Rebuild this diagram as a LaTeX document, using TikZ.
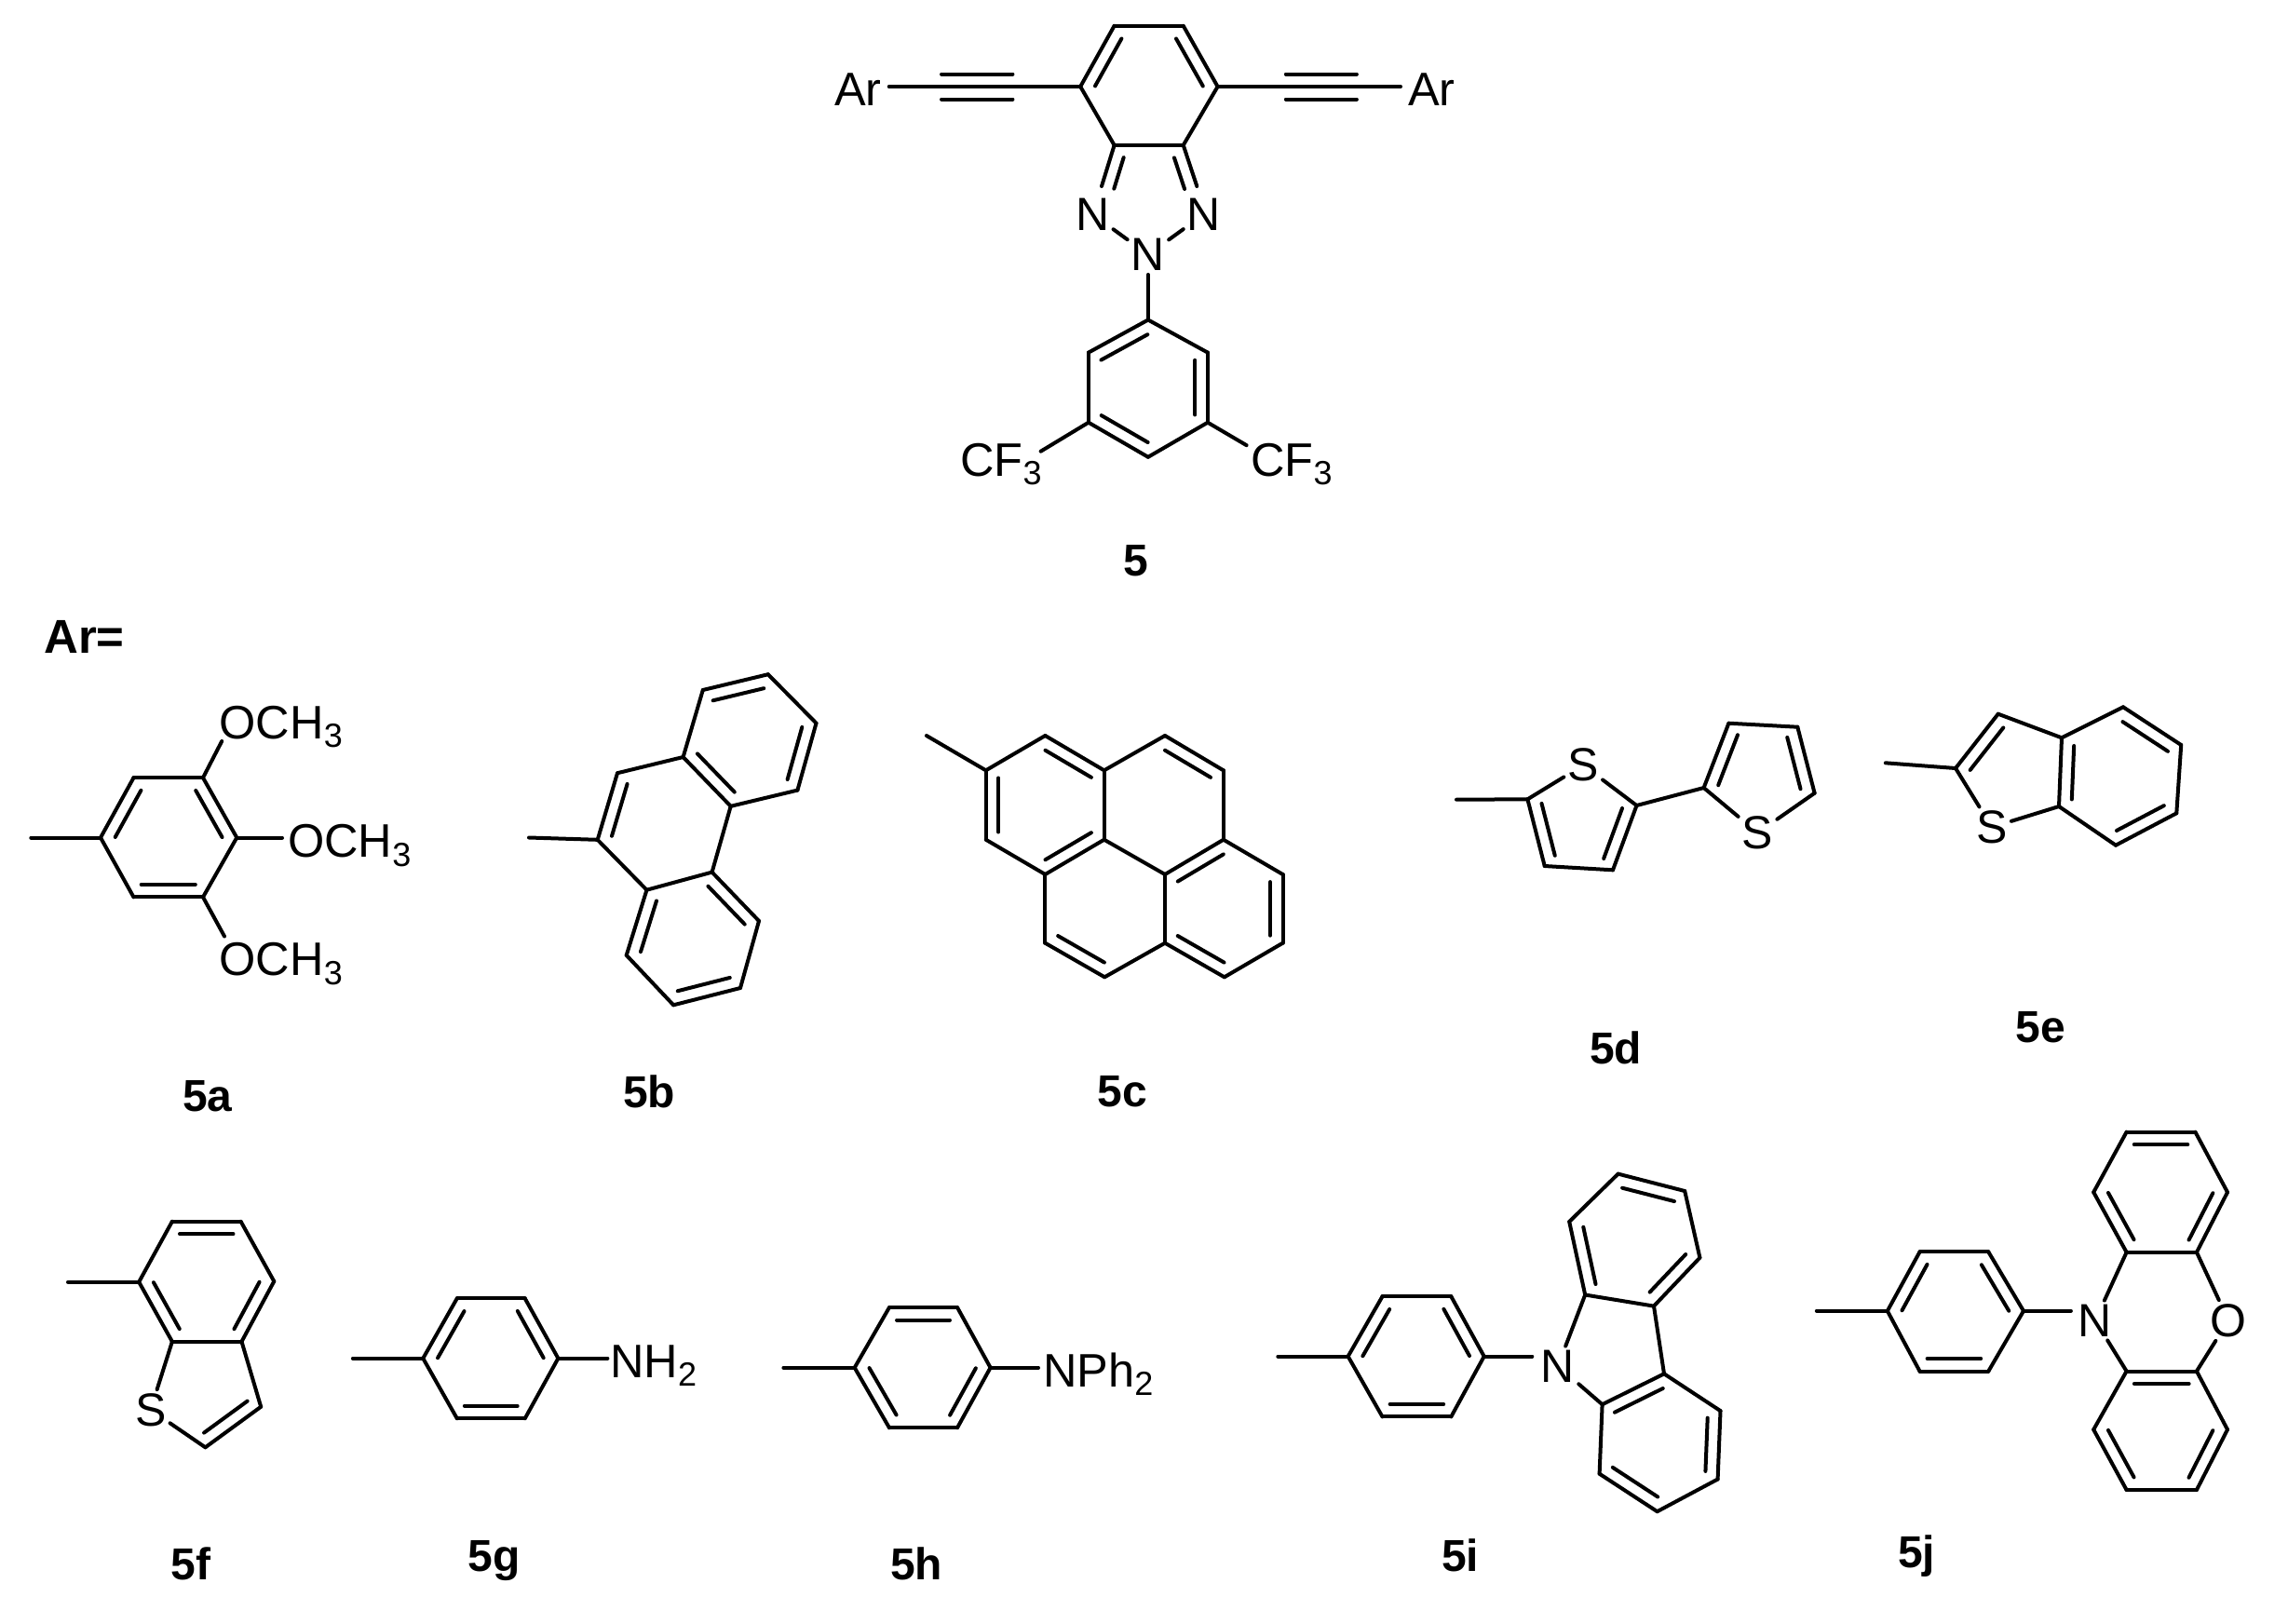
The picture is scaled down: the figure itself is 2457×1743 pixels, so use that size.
\documentclass[tikz,border=0pt]{standalone}
\usepackage{fontspec}
\setmainfont{Liberation Sans}
\usetikzlibrary{calc}
\newcommand{\subs}[1]{\raisebox{-9.5pt}{\fontsize{36}{36}\selectfont #1}}
\newcommand{\atoms}[1]{\foreach \n/\x/\y in {#1} {\coordinate (\n) at (\x,\y);}}
\newcommand{\bonds}[1]{\foreach \a/\b in {#1} {\draw[bond] (\a) -- (\b);}}
\newcommand{\inbond}[4]{\draw[bond] ($(#1)!#3!(#2)!13.5pt!-90:(#2)$) -- ($(#1)!#4!(#2)!13.5pt!-90:(#2)$);}
\newcommand{\inners}[1]{\foreach \a/\b in {#1} {\inbond{\a}{\b}{.11}{.89}}}
\tikzset{
  bond/.style={line width=4pt,line cap=round,line join=round},
  atom/.style={font=\fontsize{50}{60}\selectfont,inner sep=4pt},
  group/.style={font=\fontsize{50.5}{60}\selectfont,inner sep=0pt,anchor=base west},
  tag/.style={font=\fontsize{48}{56}\selectfont\bfseries,inner sep=0pt,anchor=base}
}
\begin{document}
\begin{tikzpicture}[x=1pt,y=-1pt]
  \useasboundingbox (0,0) rectangle (2457,1743);
  %% core 5
  \atoms{c1/1196.6/27.7,c2/1270.7/27.7,c3/1307.6/93,c4/1270.7/155.9,c5/1196.6/155.9,c6/1160.2/93,nra/1285.3/200,nla/1183/200,arla/954.7/93,arra/1504/93}
  \atoms{p1/1232.9/343.5,p2/1296.9/378.6,p3/1296.9/453.7,p4/1232.9/490.8,p5/1168.9/453.7,p6/1168.9/378.6,cfla/1117.6/484.7,cfra/1338.6/478.2}
  \node[atom] (nl) at (1173.3,230) {N};
  \node[atom] (nr) at (1293,230) {N};
  \node[atom] (nc) at (1232.9,273.5) {N};
  \node[group] (arl) at (896,113) {Ar};
  \node[group] (arr) at (1512,113) {Ar};
  \node[group] (cfl) at (1031,511) {CF\subs{3}};
  \node[group] (cfr) at (1343,511) {CF\subs{3}};
  \bonds{c1/c2,c2/c3,c3/c4,c4/c5,c5/c6,c6/c1,c4/nra,c5/nla,nl/nc,nr/nc,nc/p1,arla/c6,c3/arra}
  \bonds{p1/p2,p2/p3,p3/p4,p4/p5,p5/p6,p6/p1,p5/cfla,p3/cfra}
  \inners{c2/c3,c6/c1,p2/p3,p4/p5,p6/p1}
  \inbond{c4}{nra}{.21}{.97}
  \inbond{nla}{c5}{.03}{.79}
  %% triple bonds
  \inbond{arla}{c6}{.274}{.646}
  \inbond{c6}{arla}{.354}{.726}
  \inbond{c3}{arra}{.373}{.76}
  \inbond{arra}{c3}{.24}{.627}
  \node[tag] (l5) at (1220,618) {5};
  \node[tag,anchor=base west,font=\fontsize{51}{56}\selectfont\bfseries] (arq) at (47,701) {Ar=};
  %% 5a
  \atoms{am/33.3/899.5,a1/108/899.5,a2/143.5/835.2,a3/218/835.2,a4/254.3/899.5,a5/218/963.4,a6/143.5/963.4,ao1/238.2/796,ao2/303/899.5,ao3/241/1005.5}
  \node[group] (ot) at (235.5,793) {OCH\subs{3}};
  \node[group] (om) at (309,920.5) {OCH\subs{3}};
  \node[group] (ob) at (235.5,1047.6) {OCH\subs{3}};
  \bonds{am/a1,a1/a2,a2/a3,a3/a4,a4/a5,a5/a6,a6/a1,a3/ao1,a4/ao2,a5/ao3}
  \inners{a1/a2,a3/a4,a5/a6}
  \node[tag] (l5a) at (223,1193) {5a};
  %% 5b
  \atoms{bm/568/899.5,b1/641.7/901.8,b2/663/830.2,b3/733.6/813,b4/784.7/865.8,b5/764.6/936.6,b6/694.5/955.7}
  \atoms{b7/754.8/741,b8/824.8/724.2,b9/876.5/776.6,b10/856.4/848.6,b11/672.7/1025.8,b12/723.2/1079.3,b13/795/1061,b14/815/989}
  \bonds{bm/b1,b1/b2,b2/b3,b3/b4,b4/b5,b5/b6,b6/b1,b3/b7,b7/b8,b8/b9,b9/b10,b10/b4,b6/b11,b11/b12,b12/b13,b13/b14,b14/b5}
  \inners{b1/b2,b4/b3,b7/b8,b9/b10,b5/b14,b13/b12,b11/b6}
  \node[tag] (l5b) at (697,1189) {5b};
  %% 5c
  \atoms{cm/994.9/790,d1/1058.7/827.3,d2/1122.4/790,d3/1185.7/827.3,d4/1251/790,d5/1313.8/827.3,d6/1313.8/901.7,d7/1185.7/901.7,d8/1058.7/901.7}
  \atoms{d9/1122.4/939,d10/1251/939,d11/1377.5/939,d12/1377.5/1012.7,d13/1314.8/1049.3,d14/1251/1012.7,d15/1186.2/1049.3,d16/1122.4/1012.7}
  \bonds{cm/d1,d1/d2,d2/d3,d3/d4,d4/d5,d5/d6,d6/d10,d6/d11,d11/d12,d12/d13,d13/d14,d14/d10,d10/d7,d7/d3,d7/d9,d9/d8,d8/d1,d9/d16,d16/d15,d15/d14}
  \inners{d2/d3,d7/d9,d8/d1,d4/d5,d11/d12,d13/d14,d10/d6,d15/d16}
  \node[tag] (l5c) at (1205,1188.3) {5c};
  %% 5d
  \atoms{em/1564/858.7,e1/1640.4/858.3,e2/1757.5/865,e3/1732/934.3,e4/1658.7/930,f1/1829.6/846,f2/1856.4/776.7,f3/1930.3/780.7,f4/1948.6/851.7}
  \node[atom] (sd) at (1700.2,821.7) {S};
  \node[atom] (se) at (1887.5,894.3) {S};
  \bonds{em/e1,e1/sd,sd/e2,e2/e3,e3/e4,e4/e1,e2/f1,f1/f2,f2/f3,f3/f4,f4/se,se/f1}
  \inners{e2/e3,e4/e1,f1/f2,f3/f4}
  \node[tag] (l5d) at (1735,1142.7) {5d};
  %% 5e
  \atoms{gm/2024.8/819.3,g1/2100/825,g2/2145.7/766.7,g3/2214/792.3,g4/2211/866,g5/2280/759.3,g6/2342.2/800,g7/2337.3/873.3,g8/2272/907.7}
  \node[atom] (sg) at (2139,888.3) {S};
  \bonds{gm/g1,g1/g2,g2/g3,g3/g4,g4/sg,sg/g1,g3/g5,g5/g6,g6/g7,g7/g8,g8/g4}
  \inners{g1/g2,g4/g3,g5/g6,g7/g8}
  \node[tag] (l5e) at (2191,1119.3) {5e};
  %% 5f
  \atoms{hm/73/1376.7,h1/149.2/1376.7,h2/184.9/1311.7,h3/258.6/1311.7,h4/294.3/1376,h5/259.5/1440.7,h6/184.9/1440.7,h7/280.2/1510.7,h8/220.5/1554.3}
  \node[atom] (sh) at (161.7,1514) {S};
  \bonds{hm/h1,h1/h2,h2/h3,h3/h4,h4/h5,h5/h6,h6/h1,h6/sh,h5/h7,h7/h8,h8/sh}
  \inners{h2/h3,h4/h5,h6/h1,h7/h8}
  \node[tag] (l5f) at (205,1696) {5f};
  %% 5g
  \atoms{im/378.9/1458.7,i1/454.3/1458.7,i2/490.8/1394.3,i3/563.7/1394.3,i4/599.4/1458.7,i5/563.7/1523.3,i6/490.8/1523.3,ina/652.4/1458.7}
  \node[group] (nh) at (655,1479) {NH\subs{2}};
  \bonds{im/i1,i1/i2,i2/i3,i3/i4,i4/i5,i5/i6,i6/i1,i4/ina}
  \inners{i1/i2,i3/i4,i5/i6}
  \node[tag] (l5g) at (531,1687) {5g};
  %% 5h
  \atoms{jm/841.4/1468.7,j1/917.7/1468.7,j2/955/1404,j3/1028/1404,j4/1063.6/1468.7,j5/1028/1533.3,j6/955/1533.3,jna/1115/1468.7}
  \node[group] (np) at (1120,1489.3) {NPh\subs{2}};
  \bonds{jm/j1,j1/j2,j2/j3,j3/j4,j4/j5,j5/j6,j6/j1,j4/jna}
  \inners{j2/j3,j4/j5,j6/j1}
  \node[tag] (l5h) at (984,1696) {5h};
  %% 5i
  \atoms{km/1372.3/1456.6,k1/1447.6/1456.6,k2/1484.5/1392.2,k3/1558.3/1392.2,k4/1593.7/1456.6,k5/1558.3/1521.4,k6/1484.5/1521.4,kna/1645.3/1456.6}
  \atoms{m1/1702.2/1390.5,m2/1776/1402.6,m3/1787/1475.3,m4/1720.6/1508.2}
  \atoms{m5/1685.2/1311.9,m6/1737.6/1260.6,m7/1809.2/1279,m8/1825.4/1350.6,m9/1847.5/1515.1,m10/1844.6/1588.5,m11/1779.6/1623.2,m12/1717.6/1582.7}
  \node[atom] (nk) at (1673,1467) {N};
  \bonds{km/k1,k1/k2,k2/k3,k3/k4,k4/k5,k5/k6,k6/k1,k4/kna,nk/m1,m1/m2,m2/m3,m3/m4,m4/nk}
  \bonds{m1/m5,m5/m6,m6/m7,m7/m8,m8/m2,m3/m9,m9/m10,m10/m11,m11/m12,m12/m4}
  \inners{k1/k2,k3/k4,k5/k6,m1/m5,m6/m7,m8/m2,m9/m10,m11/m12,m4/m3}
  \node[tag] (l5i) at (1568,1687.6) {5i};
  %% 5j
  \atoms{qm/1950.8/1407.8,q1/2026.8/1407.8,q2/2061.5/1344.4,q3/2135.3/1344.4,q4/2173/1407.8,q5/2135.3/1472.5,q6/2061.5/1472.5,qna/2223.9/1407.8}
  \atoms{u1/2283.6/1344.8,u2/2358.9/1344.8,u3/2392/1280.3,u4/2357.4/1215.6,u5/2283.6/1215.6,u6/2248.2/1280.3}
  \atoms{v1/2283.6/1472.5,v2/2358.9/1472.5,v3/2392/1535.2,v4/2358.9/1600,v5/2283.6/1600,v6/2248.2/1535.2}
  \node[atom] (nq) at (2250,1418) {N};
  \node[atom] (oq) at (2393,1418) {O};
  \bonds{qm/q1,q1/q2,q2/q3,q3/q4,q4/q5,q5/q6,q6/q1,q4/qna,nq/u1,nq/v1,oq/u2,oq/v2}
  \bonds{u1/u2,u2/u3,u3/u4,u4/u5,u5/u6,u6/u1,v1/v2,v2/v3,v3/v4,v4/v5,v5/v6,v6/v1}
  \inners{q1/q2,q3/q4,q5/q6,u5/u4,u3/u2,u1/u6,v1/v2,v3/v4,v5/v6}
  \node[tag] (l5j) at (2058,1683) {5j};
\end{tikzpicture}
\end{document}
